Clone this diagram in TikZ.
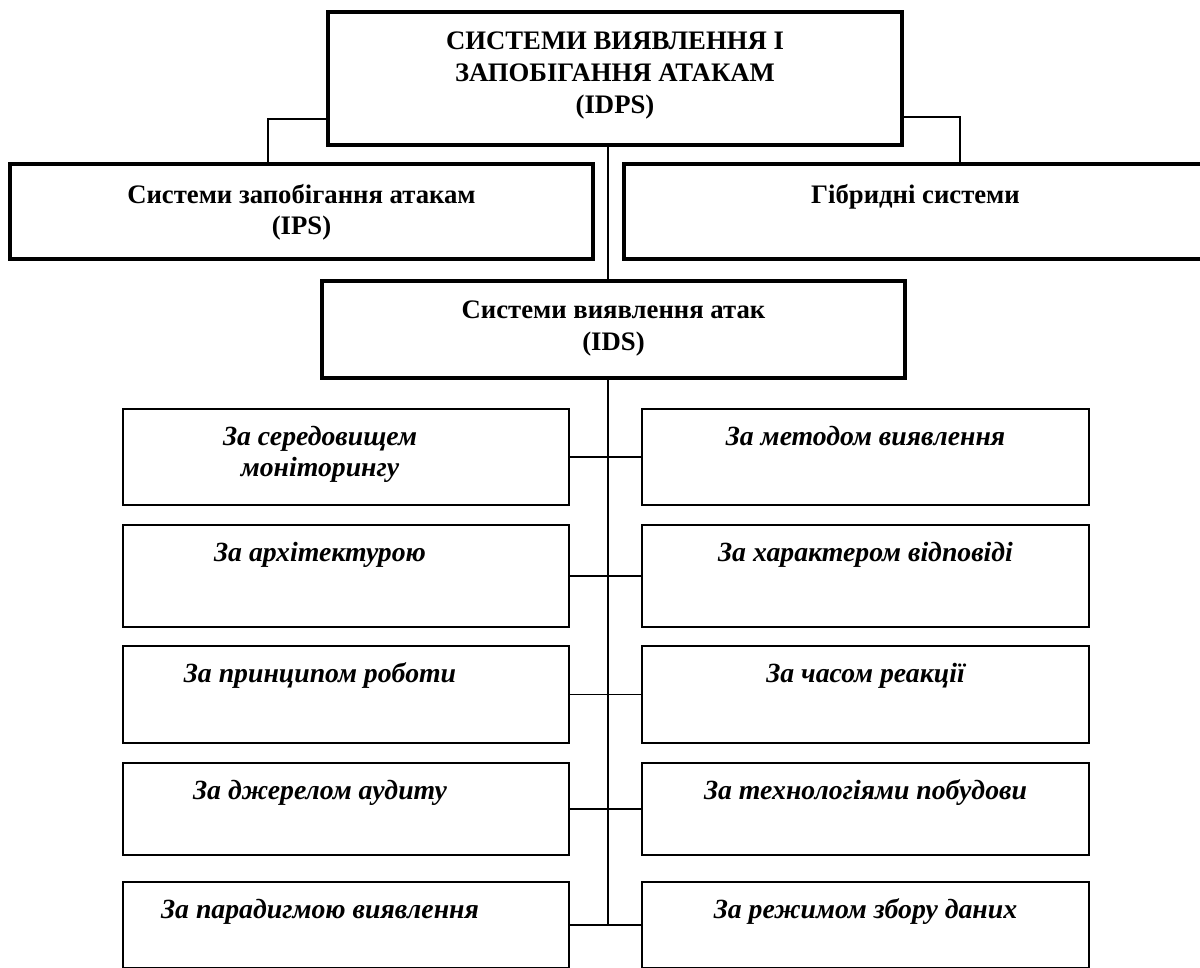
\documentclass[tikz,border=0pt]{standalone}
\usepackage{fontspec}
\setmainfont{Liberation Serif}
\usepackage{tikz}

\begin{document}
\begin{tikzpicture}[x=0.02cm,y=-0.02cm,
    mainbox/.style={draw,line width=2pt,minimum width=11.66cm,minimum height=1.9cm,inner sep=0pt},
    catbox/.style={draw,line width=1.1pt,minimum width=8.93cm,inner sep=0pt},
    toptext/.style={anchor=north,yshift=-0.43cm,align=center,inner sep=0pt,
        font=\fontsize{15.2}{18}\selectfont\bfseries},
    cattext/.style={toptext,yshift=0.08cm,font=\fontsize{15.8}{18}\selectfont\bfseries\itshape},
    lefttext/.style={cattext,xshift=-0.52cm},
    link/.style={line width=0.7pt}]
  \useasboundingbox (0,0) rectangle (1200,967);
  \fill[white] (0,0) rectangle (1200,967);

  \node[mainbox,minimum width=11.48cm,minimum height=2.66cm,
    label={[toptext]north:{СИСТЕМИ ВИЯВЛЕННЯ І\\ЗАПОБІГАННЯ АТАКАМ\\(IDPS)}}] (top) at (615,78.5) {};
  \node[mainbox,label={[toptext]north:{Системи запобігання атакам\\(IPS)}}] (ips) at (301.5,211.5) {};
  \node[mainbox,label={[toptext]north:{Гібридні системи}}] (hyb) at (915.5,211.5) {};
  \node[mainbox,minimum height=1.94cm,
    label={[toptext]north:{Системи виявлення атак\\(IDS)}}] (ids) at (613.5,329.5) {};

  \coordinate (lknee) at (268,119);
  \coordinate (rknee) at (960,117);
  \coordinate (spine) at (608,0);
  \draw[link] (top.west |- lknee) -- (lknee) -- (ips.north -| lknee);
  \draw[link] (top.east |- rknee) -- (rknee) -- (hyb.north -| rknee);
  \draw[link] (top.south -| spine) -- (ids.north -| spine);

  \foreach \i/\y/\h/\lt/\rt in {
      1/457/1.92/{За середовищем\\моніторингу}/{За методом виявлення},
      2/576/2.04/{За архітектурою}/{За характером відповіді},
      3/694.5/1.94/{За принципом роботи}/{За часом реакції},
      4/809/1.84/{За джерелом аудиту}/{За технологіями побудови},
      5/925/1.72/{За парадигмою виявлення}/{За режимом збору даних}} {
    \node[catbox,minimum height=\h cm,label={[lefttext]north:{\lt}}] (l\i) at (346,\y) {};
    \node[catbox,minimum height=\h cm,label={[cattext]north:{\rt}}] (r\i) at (865.5,\y) {};
    \draw[link] (l\i.east) -- (r\i.west);
  }
  \draw[link] (ids.south -| spine) -- (l5.east -| spine);
\end{tikzpicture}
\end{document}
